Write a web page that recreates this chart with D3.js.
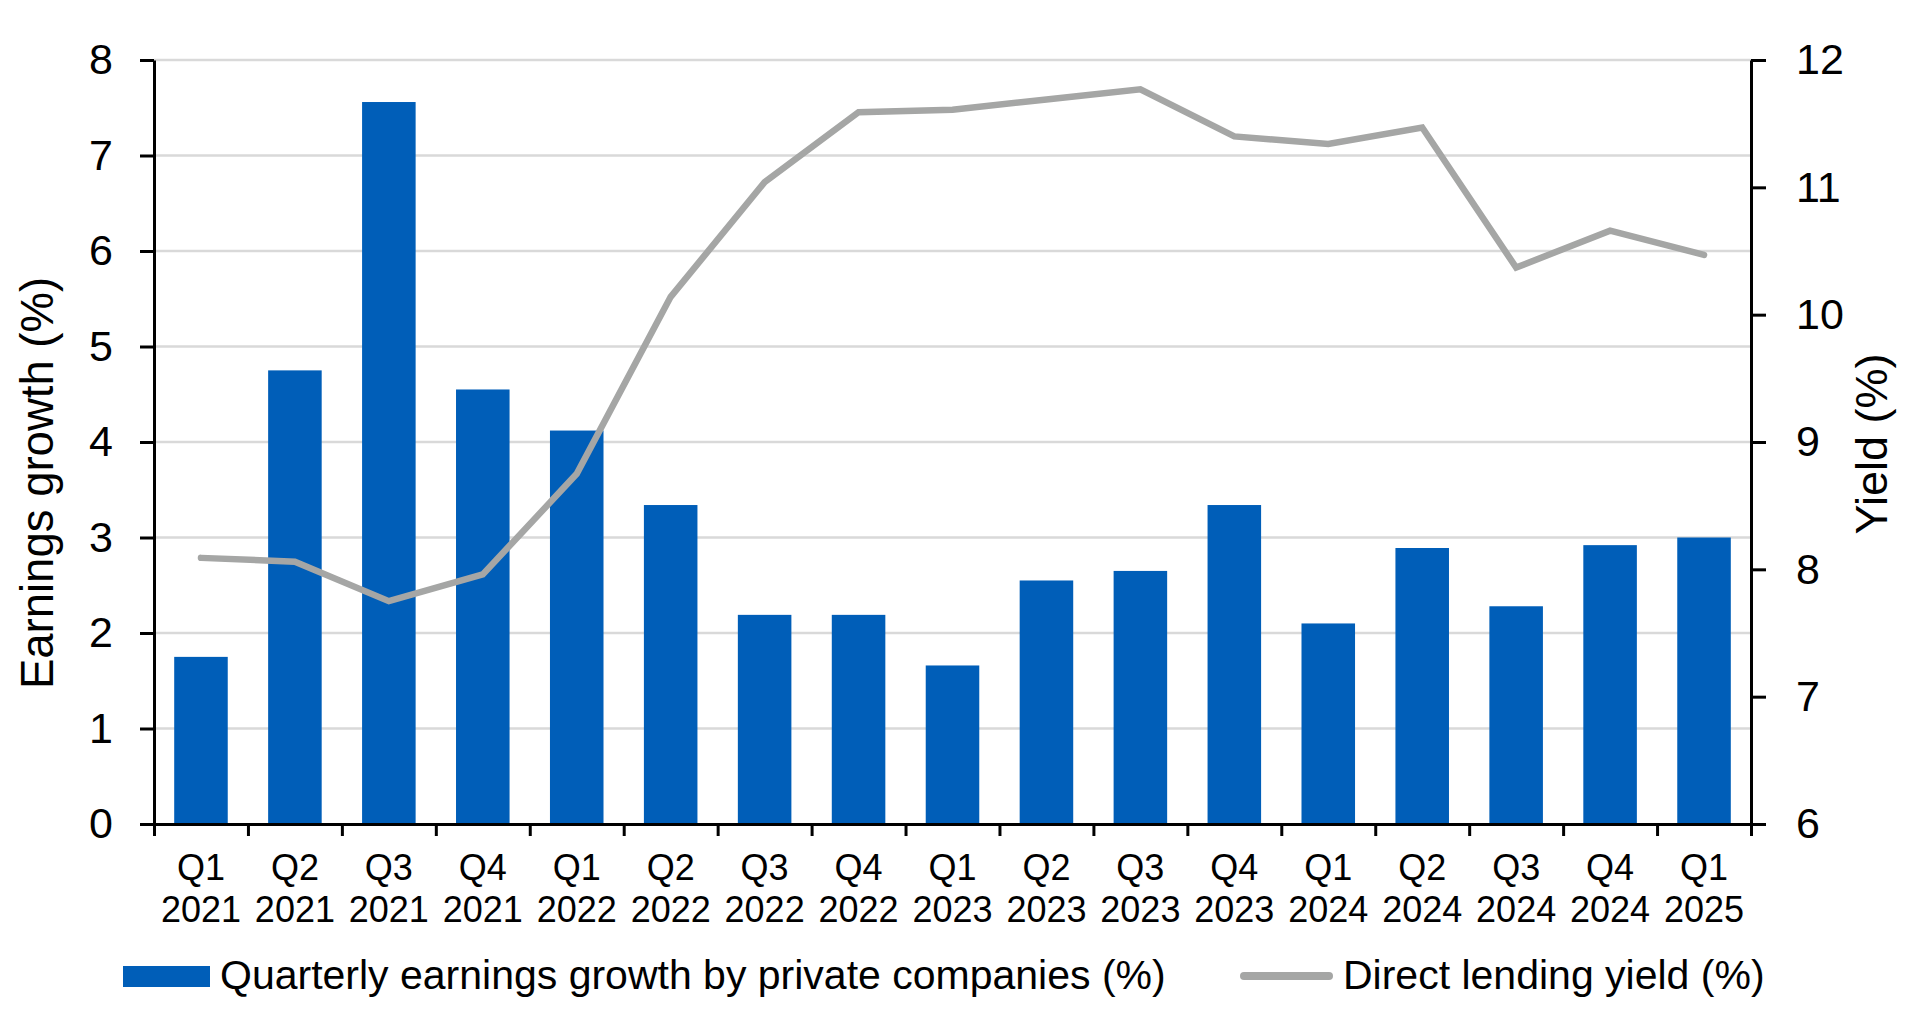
<!DOCTYPE html>
<html>
<head>
<meta charset="utf-8">
<script src="https://cdn.jsdelivr.net/npm/d3@7"></script>
<style>
  html, body { margin: 0; padding: 0; background: #ffffff; }
  svg { display: block; font-family: "Liberation Sans", Arial, sans-serif; }
</style>
</head>
<body>
<svg id="chart" width="1905" height="1023"></svg>
<script>
// ---- data ----
const categories = ["Q1 2021","Q2 2021","Q3 2021","Q4 2021","Q1 2022","Q2 2022","Q3 2022","Q4 2022",
                    "Q1 2023","Q2 2023","Q3 2023","Q4 2023","Q1 2024","Q2 2024","Q3 2024","Q4 2024","Q1 2025"];
const earningsGrowth = [1.75, 4.75, 7.56, 4.55, 4.12, 3.34, 2.19, 2.19, 1.66, 2.55, 2.65, 3.34, 2.10, 2.89, 2.28, 2.92, 3.00];
const lendingYield = [8.09, 8.06, 7.75, 7.96, 8.75, 10.14, 11.04, 11.59, 11.61, 11.69, 11.77, 11.40, 11.34, 11.47, 10.37, 10.66, 10.47];
const leftTicks = [0, 1, 2, 3, 4, 5, 6, 7, 8];
const rightTicks = [6, 7, 8, 9, 10, 11, 12];
const barLabel = "Quarterly earnings growth by private companies (%)";
const lineLabel = "Direct lending yield (%)";
const leftTitle = "Earnings growth (%)";
const rightTitle = "Yield (%)";

// ---- layout ----
const svg = d3.select("#chart");
const L = 154, R = 1751, T = 60, B = 824;
const BAR = "#005eb8", LINE = "#a5a6a5", GRID = "#d9d9d9";

svg.append("rect").attr("width", 1905).attr("height", 1023).attr("fill", "#fff");

const x = d3.scaleBand().domain(categories).range([L, R]).paddingInner(0.43).paddingOuter(0.215);
const xb = d3.scaleLinear().domain([0, categories.length]).range([L, R]);
const yL = d3.scaleLinear().domain([0, 8]).range([B, T]);
const yR = d3.scaleLinear().domain([6, 12]).range([B, T]);

// gridlines
svg.append("g").selectAll("line").data(leftTicks.filter(d => d > 0)).join("line")
  .attr("x1", L).attr("x2", R)
  .attr("y1", d => yL(d)).attr("y2", d => yL(d))
  .attr("stroke", GRID).attr("stroke-width", 2.5);

// bars
svg.append("g").selectAll("rect").data(categories).join("rect")
  .attr("x", d => x(d))
  .attr("width", x.bandwidth())
  .attr("y", (d, i) => yL(earningsGrowth[i]))
  .attr("height", (d, i) => yL(0) - yL(earningsGrowth[i]))
  .attr("fill", BAR);

// line
const line = d3.line()
  .x((d, i) => x(categories[i]) + x.bandwidth() / 2)
  .y(d => yR(d));
svg.append("path").datum(lendingYield)
  .attr("d", line)
  .attr("fill", "none").attr("stroke", LINE).attr("stroke-width", 6.5)
  .attr("stroke-linecap", "round").attr("stroke-linejoin", "miter");

// axes
function styleAxis(g, size) {
  g.select(".domain").attr("stroke", "#000").attr("stroke-width", 3);
  g.selectAll(".tick line").attr("stroke", "#000").attr("stroke-width", 3);
  g.selectAll(".tick text").attr("fill", "#000").style("font-size", size + "px")
    .style("font-family", "'Liberation Sans', Arial, sans-serif");
}
const gl = svg.append("g").attr("transform", `translate(${L},0)`)
  .call(d3.axisLeft(yL).tickValues(leftTicks).tickSize(14).tickSizeOuter(0).tickPadding(27).tickFormat(d3.format("d")));
styleAxis(gl, 43);
const gr = svg.append("g").attr("transform", `translate(${R},0)`)
  .call(d3.axisRight(yR).tickValues(rightTicks).tickSize(15).tickSizeOuter(0).tickPadding(30).tickFormat(d3.format("d")));
styleAxis(gr, 43);
const gb = svg.append("g").attr("transform", `translate(0,${B})`)
  .call(d3.axisBottom(xb).tickValues(d3.range(categories.length + 1)).tickSize(12).tickSizeOuter(0).tickFormat(""));
styleAxis(gb, 36);

// x labels (two lines)
const xl = svg.append("g").selectAll("text").data(categories).join("text")
  .attr("x", d => x(d) + x.bandwidth() / 2)
  .attr("text-anchor", "middle")
  .style("font-size", "36px").attr("fill", "#000");
xl.append("tspan").attr("x", d => x(d) + x.bandwidth() / 2).attr("y", 880).text(d => d.split(" ")[0]);
xl.append("tspan").attr("x", d => x(d) + x.bandwidth() / 2).attr("y", 922).text(d => d.split(" ")[1]);

// axis titles
svg.append("text").attr("transform", "translate(53,483) rotate(-90)")
  .attr("text-anchor", "middle").style("font-size", "45.5px").attr("fill", "#000").text(leftTitle);
svg.append("text").attr("transform", "translate(1887,444) rotate(-90)")
  .attr("text-anchor", "middle").style("font-size", "45px").attr("fill", "#000").text(rightTitle);

// legend
const lg = svg.append("g");
lg.append("rect").attr("x", 123).attr("y", 966).attr("width", 87).attr("height", 21).attr("fill", BAR);
lg.append("text").attr("x", 220).attr("y", 989).style("font-size", "41px").attr("fill", "#000").text(barLabel);
lg.append("line").attr("x1", 1244).attr("x2", 1329).attr("y1", 976).attr("y2", 976)
  .attr("stroke", LINE).attr("stroke-width", 8).attr("stroke-linecap", "round");
lg.append("text").attr("x", 1343).attr("y", 989).style("font-size", "41px").attr("fill", "#000").text(lineLabel);
</script>
</body>
</html>
